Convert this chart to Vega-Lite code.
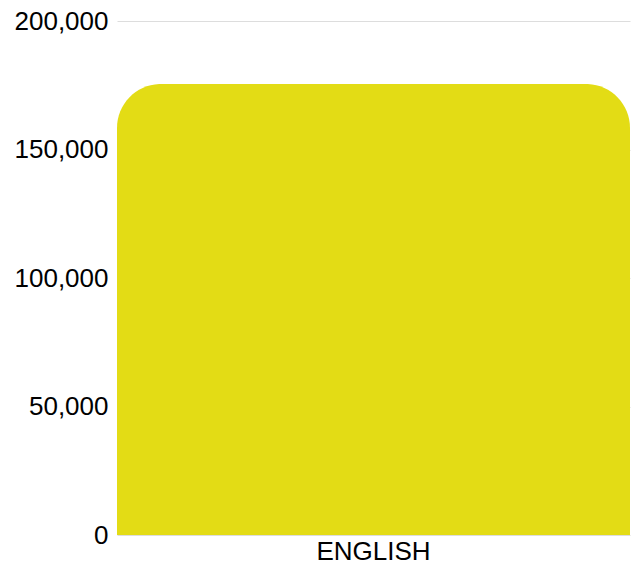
{
  "$schema": "https://vega.github.io/schema/vega-lite/v6.json",
  "autosize": {"type": "none"},
  "width": 513,
  "height": 514,
  "padding": {"left": 117, "top": 21, "right": 6, "bottom": 27},
  "background": "white",
  "data": {"values": [{"language": "ENGLISH", "count": 175500}]},
  "mark": {"type": "bar", "color": "#E3DC15", "cornerRadiusTopLeft": 44, "cornerRadiusTopRight": 44},
  "encoding": {
    "x": {"field": "language", "type": "nominal", "scale": {"paddingInner": 0, "paddingOuter": 0},
      "axis": {"title": null, "labelAngle": 0, "domain": false, "ticks": false, "labelFont": "Liberation Sans", "labelFontSize": 26, "labelColor": "#000", "labelPadding": 3}},
    "y": {"field": "count", "type": "quantitative", "scale": {"domain": [0, 200000]},
      "axis": {"title": null, "values": [0, 50000, 100000, 150000, 200000], "format": ",d", "domain": false, "ticks": false, "labelFont": "Liberation Sans", "labelFontSize": 26, "labelColor": "#000", "labelPadding": 9, "gridColor": "#ddd"}}
  },
  "config": {"view": {"stroke": null}}
}
